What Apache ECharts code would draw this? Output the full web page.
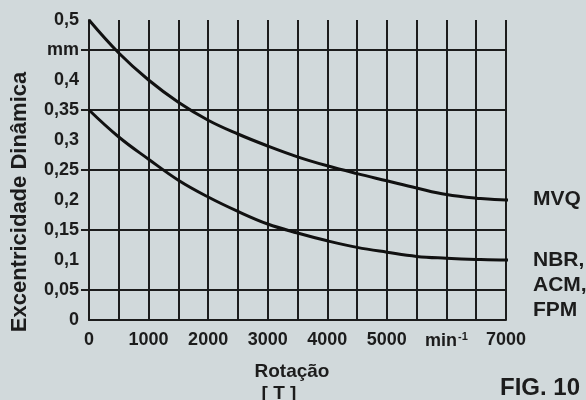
<!DOCTYPE html>
<html><head><meta charset="utf-8">
<script src="https://cdn.jsdelivr.net/npm/echarts@6/dist/echarts.min.js"></script>
<style>html,body{margin:0;padding:0;background:#d1d9db;}#c{width:586px;height:400px;}</style>
</head><body><div id="c"></div>
<script>
const rpm = [0, 500, 1000, 1500, 2000, 2500, 3000, 3500, 4000, 4500, 5000, 5500, 6000, 6500, 7000, 7150];
const mvq = [0.5, 0.445, 0.40, 0.363, 0.333, 0.31, 0.29, 0.272, 0.257, 0.244, 0.232, 0.22, 0.209, 0.203, 0.2, 0.2];
const nbr = [0.35, 0.305, 0.268, 0.233, 0.205, 0.181, 0.16, 0.145, 0.132, 0.121, 0.113, 0.106, 0.103, 0.101, 0.1, 0.1];
const xTickLabels = ['0','1000','2000','3000','4000','5000','{m|min}{s|-1}','7000'];
const yTickLabels = ['0','0,05','0,1','0,15','0,2','0,25','0,3','0,35','0,4','mm','0,5'];
const seriesLabels = ['MVQ', 'NBR,\nACM,\nFPM'];

const F = '"Liberation Sans", Arial, sans-serif';
const INK = '#1c1c1c';
const chart = echarts.init(document.getElementById('c'));
chart.setOption({
  backgroundColor: '#d1d9db',
  animation: false,
  grid: {left: 89, right: 80, top: 20, bottom: 80},
  xAxis: {
    type: 'value', min: 0, max: 7000, interval: 500,
    axisLine: {show: true, lineStyle: {color: INK, width: 2}},
    axisTick: {show: false},
    splitLine: {show: true, lineStyle: {color: INK, width: 2}},
    axisLabel: {
      customValues: [0,1000,2000,3000,4000,5000,6000,7000],
      margin: 11, color: INK, fontFamily: F, fontWeight: 'bold', fontSize: 18,
      formatter: v => xTickLabels[Math.round(v/1000)],
      rich: {m: {fontFamily: F, fontWeight: 'bold', fontSize: 18, color: INK},
             s: {fontFamily: F, fontWeight: 'bold', fontSize: 11, color: INK, verticalAlign: 'top', padding: [0,0,9,1]}}
    }
  },
  yAxis: {
    type: 'value', min: 0, max: 0.5, interval: 0.05,
    axisLine: {show: true, lineStyle: {color: INK, width: 2}},
    axisTick: {show: true, customValues: [0.05,0.15,0.25,0.35,0.45], length: 8, lineStyle: {color: INK, width: 2}},
    splitLine: {show: true, lineStyle: {color: INK, width: 2}},
    axisLabel: {
      margin: 10, color: INK, fontFamily: F, fontWeight: 'bold', fontSize: 18,
      formatter: v => yTickLabels[Math.round(v/0.05)]
    }
  },
  series: [
    {type: 'line', data: rpm.map((x,i)=>[x, mvq[i]]), smooth: 0.4, symbol: 'none', clip: false,
     lineStyle: {color: '#111', width: 3}},
    {type: 'line', data: rpm.map((x,i)=>[x, nbr[i]]), smooth: 0.4, symbol: 'none', clip: false,
     lineStyle: {color: '#111', width: 3}}
  ],
  graphic: [
    {type: 'text', x: 20, y: 202, rotation: Math.PI/2,
     style: {text: 'Excentricidade Dinâmica', font: 'bold 22px ' + F, fill: INK, align: 'center', verticalAlign: 'middle'}},
    {type: 'text', left: 533, top: 189, style: {text: seriesLabels[0], font: 'bold 21px ' + F, fill: INK}},
    {type: 'text', left: 533, top: 248, style: {text: seriesLabels[1], font: 'bold 21px ' + F, fill: INK, lineHeight: 25}},
    {type: 'text', x: 292, y: 372, style: {text: 'Rotação', font: 'bold 19px ' + F, fill: INK, align: 'center', verticalAlign: 'middle'}},
    {type: 'text', x: 279, y: 394, style: {text: '[ T ]', font: 'bold 19px ' + F, fill: INK, align: 'center', verticalAlign: 'middle'}},
    {type: 'text', left: 500, top: 376, style: {text: 'FIG. 10', font: 'bold 24px ' + F, fill: INK}}
  ]
});
</script></body></html>
